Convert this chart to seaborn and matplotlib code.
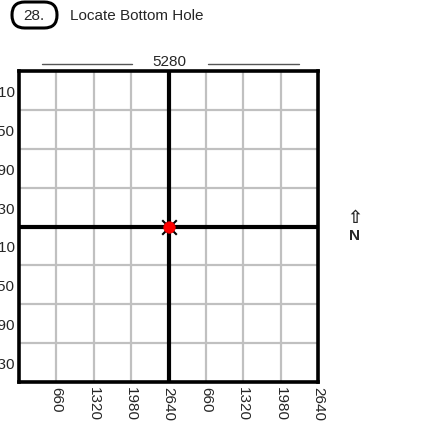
import matplotlib
matplotlib.use("Agg")
import matplotlib.pyplot as plt
from matplotlib.patches import FancyBboxPatch
import seaborn as sns
import pandas as pd

# Section data (feet)
SECTION = 5280
grid_lines = [660, 1320, 1980, 3300, 3960, 4620]
half_lines = [2640]
x_ticks = [660, 1320, 1980, 2640, 3300, 3960, 4620, 5280]
x_labels = ["660", "1320", "1980", "2640", "660", "1320", "1980", "2640"]
y_ticks = [330, 990, 1650, 2310, 2970, 3630, 4290, 4950]
y_labels = ["330", "990", "1650", "2310", "330", "990", "1650", "2310"]
hole_x = [2640]
hole_y = [2640]

sns.set_style("white")
plt.rcParams["font.family"] = ["Liberation Sans", "DejaVu Sans"]

fig = plt.figure(figsize=(4.25, 4.27), dpi=100)
ax = fig.add_axes([19 / 425, 1 - 383 / 427, 299 / 425, 311 / 427])

# light grid
for v in grid_lines:
    ax.axvline(v, color="#c0c0c0", lw=1.6, zorder=1)
    ax.axhline(v, color="#c0c0c0", lw=1.6, zorder=1)
# half-section lines
for v in half_lines:
    ax.axvline(v, color="black", lw=3, zorder=2)
    ax.axhline(v, color="black", lw=3, zorder=2)

df = pd.DataFrame({"x": hole_x, "y": hole_y})
sns.scatterplot(data=df, x="x", y="y", marker="x", s=110, color="black",
                linewidth=1.5, zorder=4, ax=ax, legend=False)
sns.scatterplot(data=df, x="x", y="y", marker="o", s=70, color="#ff0000",
                edgecolor="#cc0000", linewidth=0.5, zorder=5, ax=ax, legend=False)

ax.set_xlim(0, SECTION)
ax.set_ylim(0, SECTION)
ax.set_xlabel("")
ax.set_ylabel("")
ax.set_xticks(x_ticks)
ax.set_xticklabels(x_labels, rotation=270, fontsize=11)
ax.set_yticks(y_ticks)
ax.set_yticklabels(y_labels, fontsize=11)
ax.tick_params(axis="both", length=0, pad=3)
for s in ax.spines.values():
    s.set_visible(True)
    s.set_color("black")
    s.set_linewidth(2.6)

# header
box = FancyBboxPatch((12 / 425, 1 - 29 / 427), 45 / 425, 26 / 427,
                     boxstyle="round,pad=0,rounding_size=0.03",
                     transform=fig.transFigure, fill=False, lw=2.2,
                     edgecolor="black")
fig.patches.append(box)
fig.text(34 / 425, 1 - 16 / 427, "28.", ha="center", va="center", fontsize=11)
fig.text(70 / 425, 1 - 16 / 427, "Locate Bottom Hole", ha="left", va="center",
         fontsize=11)

# 5280 dimension
fig.text(169 / 425, 1 - 62 / 427, "5280", ha="center", va="center", fontsize=11)
fig.add_artist(plt.Line2D([42 / 425, 132 / 425], [1 - 65 / 427, 1 - 65 / 427],
                          color="#555555", lw=1))
fig.add_artist(plt.Line2D([208 / 425, 299 / 425], [1 - 65 / 427, 1 - 65 / 427],
                          color="#555555", lw=1))

# north arrow
fig.text(355 / 425, 1 - 218 / 427, "⇧", ha="center", va="center", fontsize=13,
         fontweight="bold", family=["DejaVu Sans"])
fig.text(355 / 425, 1 - 236 / 427, "N", ha="center", va="center", fontsize=11,
         fontweight="bold")

fig.savefig("out.png", dpi=100)
